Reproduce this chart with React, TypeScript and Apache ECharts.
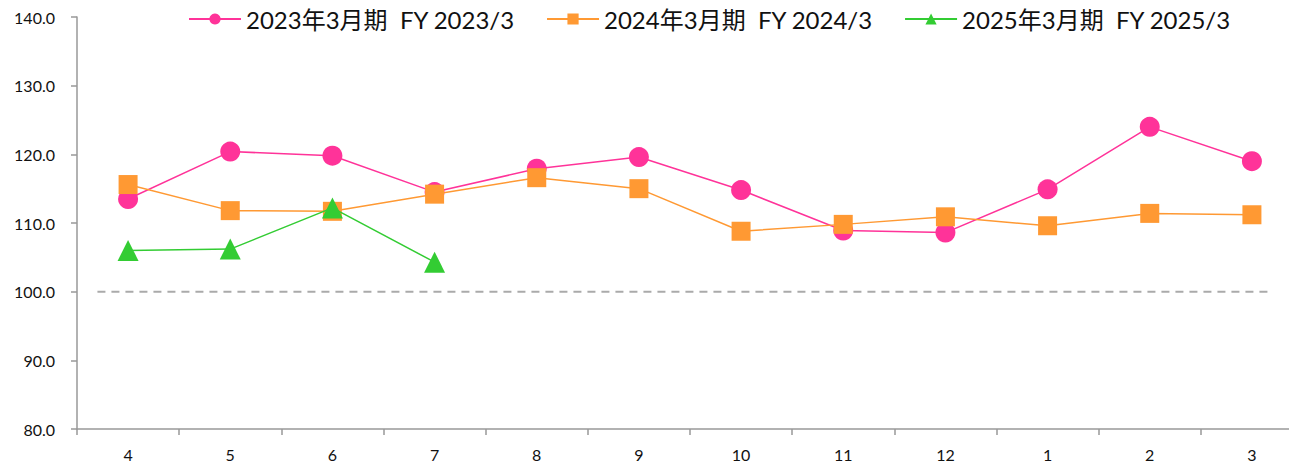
import React, { useEffect, useRef } from "react";
import * as echarts from "echarts";

const months = ["4", "5", "6", "7", "8", "9", "10", "11", "12", "1", "2", "3"];
const seriesNames = ["2023年3月期  FY 2023/3", "2024年3月期  FY 2024/3", "2025年3月期  FY 2025/3"];
const fy2023 = [113.5, 120.4, 119.8, 114.5, 117.9, 119.6, 114.8, 108.9, 108.6, 114.9, 124.0, 119.0];
const fy2024 = [115.6, 111.8, 111.7, 114.2, 116.6, 115.0, 108.8, 109.8, 110.9, 109.6, 111.4, 111.2];
const fy2025 = [106.0, 106.2, 112.2, 104.3];
const baseline = [[0.2, 100], [11.66, 100]];
const yTicks = { min: 80, max: 140, interval: 10 };

const FONT = "Lato, 'Noto Sans CJK JP', sans-serif";

export default function App() {
  const ref = useRef<HTMLDivElement>(null);
  useEffect(() => {
    const chart = echarts.init(ref.current!, null, { renderer: "svg" });
    chart.setOption({
      animation: false,
      backgroundColor: "#ffffff",
      textStyle: { fontFamily: FONT },
      grid: { left: 77, right: 0, top: 17, bottom: 38, containLabel: false },
      legend: {
        top: 7,
        left: 188,
        padding: 0,
        itemWidth: 52,
        itemHeight: 14,
        itemGap: 31,
        textStyle: { fontSize: 24, color: "#111", fontFamily: FONT },
        data: seriesNames,
      },
      xAxis: [
        {
          type: "category",
          data: months,
          boundaryGap: true,
          axisLine: { lineStyle: { color: "#999", width: 1.5 } },
          axisTick: { show: true, length: 6, lineStyle: { color: "#999", width: 1.5 } },
          axisLabel: { fontSize: 16, color: "#111", margin: 17, fontFamily: FONT },
          splitLine: { show: false },
        },
        {
          type: "value",
          min: 0,
          max: 12,
          show: false,
        },
      ],
      yAxis: {
        type: "value",
        min: yTicks.min,
        max: yTicks.max,
        interval: yTicks.interval,
        axisLine: { show: true, lineStyle: { color: "#999", width: 1.5 } },
        axisTick: { show: true, length: 6, lineStyle: { color: "#999", width: 1.5 } },
        axisLabel: {
          fontSize: 16,
          color: "#111",
          margin: 22,
          fontFamily: FONT,
          formatter: (v: number) => v.toFixed(1),
        },
        splitLine: { show: false },
      },
      series: [
        {
          name: "baseline",
          type: "line",
          xAxisIndex: 1,
          data: baseline,
          symbol: "none",
          lineStyle: { color: "#aaaaaa", width: 2, type: [8, 6] },
          silent: true,
          z: 1,
        },
        {
          name: seriesNames[0],
          type: "line",
          data: fy2023,
          symbol: "circle",
          symbolSize: 20,
          itemStyle: { color: "#ff3399" },
          lineStyle: { color: "#ff3399", width: 1.5 },
          z: 2,
        },
        {
          name: seriesNames[1],
          type: "line",
          data: fy2024,
          symbol: "rect",
          symbolSize: 19,
          itemStyle: { color: "#ff9933" },
          lineStyle: { color: "#ff9933", width: 1.5 },
          z: 3,
        },
        {
          name: seriesNames[2],
          type: "line",
          data: fy2025,
          symbol: "triangle",
          symbolSize: 21,
          itemStyle: { color: "#33cc33" },
          lineStyle: { color: "#33cc33", width: 1.5 },
          z: 4,
        },
      ],
    });
    return () => chart.dispose();
  }, []);
  return (
    <div style={{ position: "absolute", left: 0, top: 0, width: 1289, height: 467, overflow: "hidden" }}>
      <div ref={ref} style={{ width: 1303, height: 467 }} />
    </div>
  );
}
